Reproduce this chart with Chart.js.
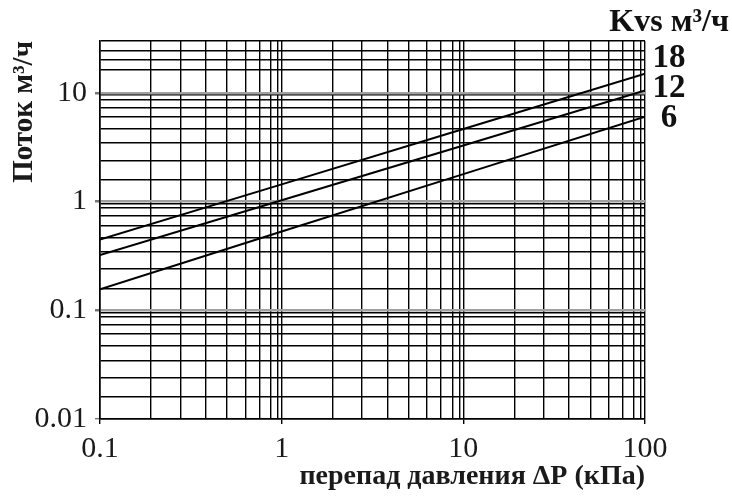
<!DOCTYPE html>
<html>
<head>
<meta charset="utf-8">
<script src="https://cdn.jsdelivr.net/npm/chart.js@4/dist/chart.umd.min.js"></script>
<style>
  html, body { margin: 0; padding: 0; background: #fff; }
  #wrap { width: 732px; height: 497px; position: relative; }
</style>
</head>
<body>
<div id="wrap"><canvas id="grafico"></canvas></div>
<script>
// перепад давления, кПа (точки по декадам)
const dpValues = [0.1, 1, 10, 100];
// расход для каждого Kvs, м3/ч
const flow18 = [0.448, 1.44, 4.65, 15.0];
const flow12 = [0.322, 1.03, 3.28, 10.5];
const flow6 = [0.156, 0.53, 1.79, 6.04];
const kvsLabels = ['18', '12', '6'];

// подписи осей
const xTickLabels = [0.1, 1, 10, 100];
const yTickLabels = [0.01, 0.1, 1, 10];

// сетка (как на бланке, линии не строго логарифмические)
const xMinorMult = [1.91, 2.77, 3.81, 5.01, 6.3, 7.55, 8.7, 9.5];
const yMinorMult = [1.59, 2.4, 3.45, 4.68, 6.04, 7.36, 8.73, 9.55];
const yTopGrid = [10, 16.2, 20, 24.2, 30];

const xGrid = [];
[0.1, 1, 10].forEach(d => {
  xGrid.push(d);
  xMinorMult.forEach(m => xGrid.push(+(d * m).toPrecision(4)));
});
xGrid.push(100);

const yGrid = [];
[0.01, 0.1, 1].forEach(d => {
  yGrid.push(d);
  yMinorMult.forEach(m => yGrid.push(+(d * m).toPrecision(4)));
});
yTopGrid.forEach(v => yGrid.push(v));

const isLabel = (list, v) => list.some(l => Math.abs(l - v) / l < 1e-6);

const serif = "'Liberation Serif', 'DejaVu Serif', serif";

function series(values) {
  return dpValues.map((x, i) => ({ x: x, y: values[i] }));
}

const lineStyle = {
  borderColor: '#000',
  borderWidth: 2,
  pointRadius: 0,
  tension: 0,
  fill: false
};

// подписи Kvs справа
const kvsPlugin = {
  id: 'kvsText',
  afterDraw(chart) {
    const { ctx, chartArea } = chart;
    ctx.save();
    ctx.fillStyle = '#111';
    ctx.textBaseline = 'middle';
    ctx.font = "bold 32px " + serif;
    ctx.textAlign = 'right';
    ctx.fillText('Kvs м³/ч', 729, 23);
    ctx.font = "bold 33px " + serif;
    ctx.textAlign = 'center';
    const ys = [chartArea.top + 17, chartArea.top + 47, chartArea.top + 77];
    kvsLabels.forEach((t, i) => ctx.fillText(t, chartArea.right + 24, ys[i]));
    ctx.restore();
  }
};

new Chart(document.getElementById('grafico'), {
  type: 'line',
  data: {
    datasets: [
      Object.assign({ label: '18', data: series(flow18) }, lineStyle),
      Object.assign({ label: '12', data: series(flow12) }, lineStyle),
      Object.assign({ label: '6', data: series(flow6) }, lineStyle)
    ]
  },
  options: {
    responsive: true,
    maintainAspectRatio: false,
    animation: false,
    layout: { padding: { top: 41, right: 87, left: 0, bottom: 0 } },
    plugins: {
      legend: { display: false },
      tooltip: { enabled: false }
    },
    scales: {
      x: {
        type: 'logarithmic',
        min: 0.1,
        max: 100,
        afterBuildTicks: s => { s.ticks = xGrid.map(v => ({ value: v })); },
        afterFit: s => { s.height = 78; },
        border: { color: '#000', width: 1.6 },
        grid: {
          color: '#000',
          lineWidth: 1.4,
          tickLength: 5,
          tickColor: c => isLabel(xTickLabels, c.tick.value) ? '#000' : 'rgba(0,0,0,0)'
        },
        ticks: {
          autoSkip: false,
          maxRotation: 0,
          minRotation: 0,
          padding: 7,
          color: '#1a1a1a',
          font: { family: serif, size: 30 },
          callback: v => isLabel(xTickLabels, v) ? String(v) : ''
        },
        title: {
          display: true,
          text: 'перепад давления ΔP (кПа)',
          align: 'end',
          color: '#1a1a1a',
          font: { family: serif, size: 28, weight: 'bold' },
          padding: { top: 0, bottom: 3 }
        }
      },
      y: {
        type: 'logarithmic',
        min: 0.01,
        max: 30,
        afterBuildTicks: s => { s.ticks = yGrid.map(v => ({ value: v })); },
        afterFit: s => { s.width = 100; },
        border: { color: '#000', width: 1.6 },
        grid: {
          color: c => (isLabel(yTickLabels, c.tick.value) && c.tick.value > 0.01) ? '#a0a0a0' : '#000',
          lineWidth: c => (isLabel(yTickLabels, c.tick.value) && c.tick.value > 0.01) ? 2.5 : 1.4,
          tickLength: 5,
          tickColor: c => isLabel(yTickLabels, c.tick.value) ? '#777' : 'rgba(0,0,0,0)'
        },
        ticks: {
          autoSkip: false,
          padding: 8,
          color: '#1a1a1a',
          font: { family: serif, size: 30 },
          callback: v => isLabel(yTickLabels, v) ? String(v) : ''
        },
        title: {
          display: true,
          text: 'Поток м³/ч',
          align: 'end',
          color: '#1a1a1a',
          font: { family: serif, size: 29, weight: 'bold' },
          padding: { top: 7, bottom: 0 }
        }
      }
    }
  },
  plugins: [kvsPlugin]
});
</script>
</body>
</html>
